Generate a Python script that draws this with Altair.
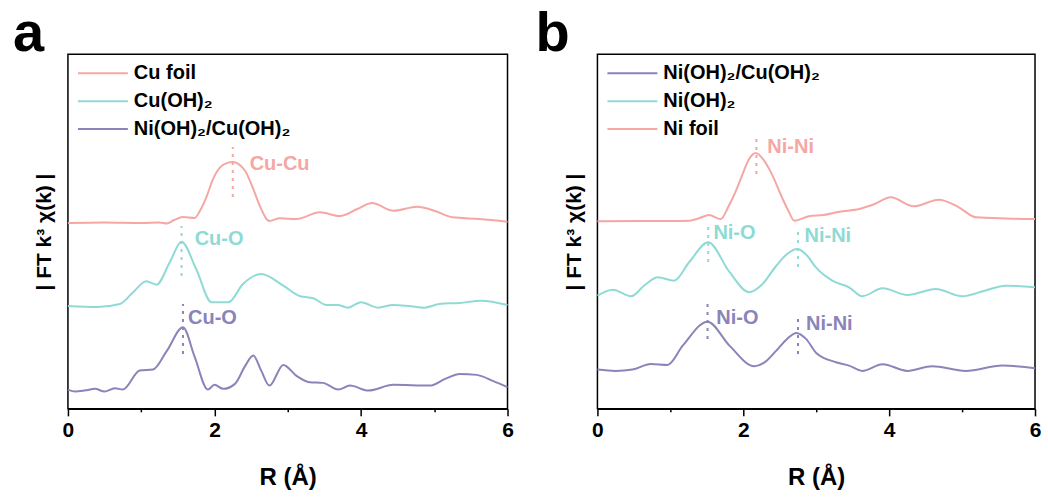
import altair as alt
import pandas as pd

FONT = "Liberation Sans, Arial, sans-serif"
PINK = "#F4A7A3"
TEAL = "#8FDAD5"
PURPLE = "#8984BA"

# ---------------- panel a data (R in Å, |FT| in arbitrary offset units) ----------------
cu_foil_R = [0.0, 0.5, 1.0, 1.25, 1.35, 1.45, 1.57, 1.73, 1.8, 1.89, 1.98, 2.08, 2.17, 2.25,
             2.33, 2.42, 2.53, 2.62, 2.75, 2.89, 3.12, 3.44, 3.71, 3.95, 4.15, 4.44, 4.77,
             5.0, 5.25, 5.62, 6.0]
cu_foil_h = [186, 186.5, 186, 186.5, 185.5, 189, 192, 191, 198, 212, 230, 242, 246, 247,
             245, 238, 220, 203, 188, 190.7, 190, 196.7, 193, 200, 206, 198.3, 202.3,
             198.3, 191.7, 190, 187.3]

cu_oh_R = [0.0, 0.4, 0.71, 0.89, 1.07, 1.21, 1.39, 1.55, 1.75, 1.96, 2.19, 2.39, 2.64,
           2.94, 3.17, 3.35, 3.53, 3.68, 3.82, 4.0, 4.23, 4.44, 4.65, 4.87, 5.07, 5.35,
           5.64, 6.0]
cu_oh_h = [103, 102, 105, 116.7, 127.7, 124.3, 146.7, 167.3, 140, 106.7, 106.7, 125, 135,
           123.3, 112.7, 110.7, 104, 104, 101.3, 106.7, 101.3, 104, 103, 101.3, 105, 106,
           108.3, 104]

nicu_a_R = [0.0, 0.1, 0.24, 0.37, 0.5, 0.64, 0.75, 0.98, 1.16, 1.35, 1.57, 1.73, 1.91,
            2.0, 2.12, 2.28, 2.42, 2.53, 2.64, 2.75, 2.94, 3.12, 3.30, 3.48, 3.69, 3.85,
            4.10, 4.44, 4.94, 5.15, 5.35, 5.58, 5.8, 6.0]
nicu_a_h = [19.3, 17.3, 18.5, 20, 17.3, 20.7, 19.3, 38.3, 39.3, 58, 81.7, 52, 19.3,
            24, 20, 25, 43, 53.3, 38, 23.3, 44, 33, 26.7, 26, 19.3, 23.3,
            18.3, 24, 23.3, 30, 35, 34, 28, 21.7]

# ---------------- panel b data ----------------
ni_foil_R = [0.0, 0.6, 1.0, 1.26, 1.4, 1.53, 1.69, 1.8, 1.89, 1.98, 2.08, 2.17, 2.27,
             2.38, 2.53, 2.62, 2.70, 2.90, 3.1, 3.32, 3.59, 3.8, 4.02, 4.34, 4.68, 4.95,
             5.19, 5.6, 6.0]
ni_foil_h = [187.7, 188, 188, 188.3, 191, 194, 190, 203, 216.7, 233, 250, 256, 250,
             236.7, 211.7, 198, 188.3, 192.7, 194, 197.3, 200, 205, 211.7, 202.7, 209.3, 202,
             191.7, 190.5, 190]

ni_oh_R = [0.0, 0.21, 0.46, 0.65, 0.83, 1.05, 1.26, 1.52, 1.81, 2.08, 2.25, 2.45, 2.6, 2.74,
           2.88, 2.99, 3.22, 3.45, 3.63, 3.91, 4.25, 4.64, 5.0, 5.3, 5.6, 6.0]
ni_oh_h = [113.3, 119.3, 112.7, 124, 131.7, 128.3, 147, 166.7, 137, 116.7, 124, 143, 155, 160,
           153, 142, 128.3, 121.7, 112.7, 120.7, 114, 120, 112.7, 118, 123.3, 121.7]

nicu_b_R = [0.0, 0.25, 0.48, 0.73, 0.96, 1.17, 1.51, 1.81, 2.15, 2.3, 2.45, 2.6, 2.73, 2.86,
            3.0, 3.27, 3.45, 3.63, 3.91, 4.25, 4.59, 5.05, 5.55, 6.0]
nicu_b_h = [39.3, 38, 39.3, 45, 44, 63.3, 87.3, 63.3, 42.7, 47, 58, 70, 76, 70,
            56, 46.7, 43.3, 38, 44.7, 38, 42.7, 38, 43.3, 40.7]

# series names
CU_FOIL = "Cu foil"
CU_OH = "Cu(OH)₂"
NICU = "Ni(OH)₂/Cu(OH)₂"
NI_OH = "Ni(OH)₂"
NI_FOIL = "Ni foil"

order_a = [CU_FOIL, CU_OH, NICU]
colors_a = [PINK, TEAL, PURPLE]
order_b = [NICU, NI_OH, NI_FOIL]
colors_b = [PURPLE, TEAL, PINK]

# annotations
rule_a_series = [CU_FOIL, CU_OH, NICU]
rule_a_R = [2.25, 1.55, 1.57]
rule_a_y1 = [212, 133, 55]
rule_a_y2 = [262, 183, 105]
label_a_text = ["Cu-Cu", "Cu-O", "Cu-O"]
label_a_R = [2.48, 1.73, 1.64]
label_a_h = [245, 170, 91]

rule_b_series = [NI_FOIL, NI_OH, NI_OH, NICU, NICU]
rule_b_R = [2.18, 1.52, 2.75, 1.51, 2.75]
rule_b_y1 = [235, 147, 142, 70, 55]
rule_b_y2 = [270, 183, 177, 105, 92]
label_b_text = ["Ni-Ni", "Ni-O", "Ni-Ni", "Ni-O", "Ni-Ni"]
label_b_R = [2.33, 1.59, 2.84, 1.63, 2.86]
label_b_h = [262, 176, 173, 91, 85]


def series_df(items):
    frames = []
    for name, R, h in items:
        frames.append(pd.DataFrame({"R": R, "h": h, "series": name}))
    return pd.concat(frames, ignore_index=True)


df_a = series_df([(CU_FOIL, cu_foil_R, cu_foil_h), (CU_OH, cu_oh_R, cu_oh_h),
                  (NICU, nicu_a_R, nicu_a_h)])
df_b = series_df([(NICU, nicu_b_R, nicu_b_h), (NI_OH, ni_oh_R, ni_oh_h),
                  (NI_FOIL, ni_foil_R, ni_foil_h)])

rules_a = pd.DataFrame({"series": rule_a_series, "R": rule_a_R, "y1": rule_a_y1, "y2": rule_a_y2})
labels_a = pd.DataFrame({"series": rule_a_series, "R": label_a_R, "h": label_a_h, "label": label_a_text})
rules_b = pd.DataFrame({"series": rule_b_series, "R": rule_b_R, "y1": rule_b_y1, "y2": rule_b_y2})
labels_b = pd.DataFrame({"series": rule_b_series, "R": label_b_R, "h": label_b_h, "label": label_b_text})


def panel(df, rules, labels, order, colors, letter, width, dx):
    cscale = alt.Scale(domain=order, range=colors)
    legend = alt.Legend(
        title=None, orient="none", legendX=0, legendY=9,
        symbolType="M0,0H8", symbolSize=156.25, symbolStrokeWidth=2,
        labelFont=FONT, labelFontSize=20, labelFontWeight="bold", labelColor="black",
        labelOffset=46, rowPadding=8, labelLimit=400,
    )
    x = alt.X(
        "R:Q",
        scale=alt.Scale(domain=[0, 6], nice=False),
        axis=alt.Axis(
            values=[0, 1, 2, 3, 4, 5, 6], format="d",
            labelExpr="datum.value % 2 === 0 ? datum.label : ''",
            tickSize={"condition": {"test": "datum.value % 2 === 0", "value": 7}, "value": 3},
            tickWidth=1.5, tickColor="black", domainColor="black", domainWidth=1.5,
            labelFont=FONT, labelFontSize=21, labelFontWeight="bold", labelColor="black",
            labelPadding=4, labelFlush=False, labelOverlap=False, grid=False,
            title="R (Å)", titleFont=FONT, titleFontSize=24, titleFontWeight="bold",
            titleColor="black", titlePadding=25,
        ),
    )
    y = alt.Y(
        "h:Q",
        scale=alt.Scale(domain=[0, 355], nice=False),
        axis=alt.Axis(
            ticks=False, labels=False, domain=False, grid=False,
            title="| FT k³ χ(k) |", titleFont=FONT, titleFontSize=21,
            titleFontWeight="bold", titleColor="black", titlePadding=13,
        ),
    )
    lines = alt.Chart(df).mark_line(strokeWidth=2, interpolate="monotone").encode(
        x=x, y=y, color=alt.Color("series:N", scale=cscale, legend=legend, sort=order),
    )
    rule = alt.Chart(rules).mark_rule(strokeWidth=2, strokeDash=[3, 5]).encode(
        x="R:Q", y="y1:Q", y2="y2:Q",
        color=alt.Color("series:N", scale=cscale, legend=legend, sort=order),
    )
    text = alt.Chart(labels).mark_text(
        align="left", baseline="middle", font=FONT, fontSize=20, fontWeight="bold"
    ).encode(
        x="R:Q", y="h:Q", text="label:N",
        color=alt.Color("series:N", scale=cscale, legend=legend, sort=order),
    )
    return alt.layer(lines, rule, text).properties(
        width=width, height=355,
        title=alt.TitleParams(
            text=letter, anchor="start", font=FONT, fontSize=56, fontWeight="bold",
            color="black", dx=dx, offset=-53, baseline="alphabetic",
        ),
    )


pa = panel(df_a, rules_a, labels_a, order_a, colors_a, "a", 440, -21)
pb = panel(df_b, rules_b, labels_b, order_b, colors_b, "b", 438, -28)

chart = (
    alt.hconcat(pa, pb, spacing=90, bounds="flush")
    .resolve_scale(color="independent")
    .properties(padding={"left": 12, "top": 5, "right": 6, "bottom": 4}, background="white")
    .configure_view(stroke="black", strokeWidth=1.5)
)

chart.save("out.html", embed_options={"renderer": "svg", "actions": False})
